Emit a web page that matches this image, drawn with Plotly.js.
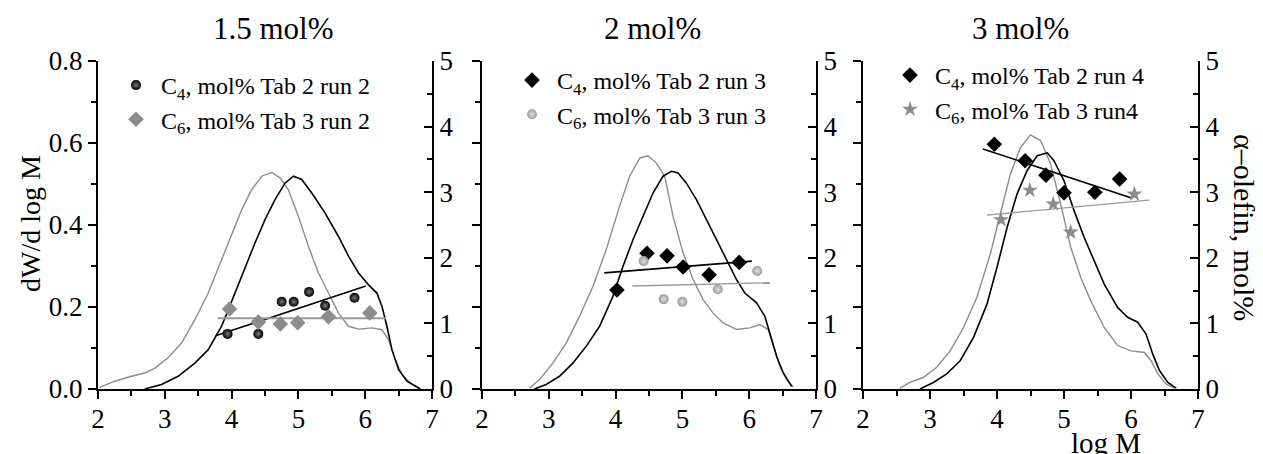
<!DOCTYPE html>
<html><head><meta charset="utf-8">
<script src="https://cdn.plot.ly/plotly-3.0.1.min.js"></script>
<style>html,body{margin:0;padding:0;background:#fff}#chart{width:1263px;height:454px}</style>
</head><body><div id="chart"></div>
<script>
const panelTitles = ['1.5 mol%', '2 mol%', '3 mol%'];
const xTitle = 'log M';
const yLeftTitle = 'dW/d log M';
const yRightTitle = 'α–olefin, mol%';

// ---- Panel 1 (1.5 mol%) GPC curves ----
const p1C4LogM = [2.70,2.95,3.20,3.45,3.65,3.85,3.95,4.05,4.20,4.35,4.50,4.65,4.80,4.925,5.05,5.20,5.40,5.60,5.75,5.90,6.05,6.175,6.25,6.325,6.40,6.50,6.625,6.75,6.825];
const p1C4W    = [0,0.011,0.031,0.063,0.096,0.153,0.193,0.234,0.291,0.356,0.413,0.462,0.502,0.519,0.511,0.478,0.429,0.372,0.324,0.283,0.254,0.234,0.202,0.153,0.096,0.047,0.019,0.0065,0];
const p1C6LogM = [2.025,2.25,2.50,2.70,2.85,3.05,3.25,3.45,3.65,3.85,4.00,4.15,4.30,4.45,4.60,4.725,4.85,5.00,5.15,5.30,5.45,5.60,5.75,5.90,6.10,6.25,6.35,6.45,6.55,6.675,6.80];
const p1C6W    = [0.004,0.019,0.031,0.039,0.051,0.076,0.112,0.169,0.234,0.315,0.380,0.437,0.486,0.519,0.528,0.515,0.486,0.421,0.348,0.283,0.234,0.185,0.153,0.146,0.149,0.145,0.120,0.072,0.035,0.015,0.002];
// Panel 1 comonomer points (right axis)
const p1C4PtLogM = [3.94,4.40,4.75,4.93,5.16,5.40,5.84];
const p1C4Pt     = [0.84,0.84,1.33,1.33,1.48,1.27,1.39];
const p1C6PtLogM = [3.97,4.40,4.73,4.99,5.45,6.07];
const p1C6Pt     = [1.22,1.02,0.99,1.01,1.10,1.16];
const p1C4FitLogM = [3.76,6.01];
const p1C4Fit     = [0.81,1.57];
const p1C6FitLogM = [3.79,6.31];
const p1C6Fit     = [1.08,1.08];

// ---- Panel 2 (2 mol%) ----
const p2C4LogM = [2.785,2.96,3.16,3.36,3.56,3.76,3.96,4.11,4.26,4.41,4.56,4.71,4.835,4.935,5.06,5.21,5.36,5.51,5.66,5.81,5.935,6.11,6.235,6.31,6.41,6.51,6.635];
const p2C4W    = [0,0.011,0.031,0.063,0.104,0.153,0.226,0.299,0.364,0.421,0.478,0.519,0.531,0.527,0.502,0.462,0.413,0.364,0.315,0.267,0.234,0.210,0.177,0.137,0.080,0.039,0.0065];
const p2C6LogM = [2.71,2.86,3.06,3.26,3.46,3.66,3.86,4.06,4.21,4.36,4.485,4.61,4.735,4.86,5.01,5.16,5.31,5.46,5.61,5.81,6.01,6.16,6.285,6.36,6.46,6.56,6.66];
const p2C6W    = [0.002,0.023,0.063,0.112,0.177,0.250,0.340,0.446,0.519,0.563,0.569,0.551,0.519,0.421,0.332,0.267,0.218,0.185,0.161,0.145,0.149,0.157,0.145,0.104,0.055,0.023,0.005];
const p2C4PtLogM = [4.02,4.47,4.77,5.01,5.40,5.85];
const p2C4Pt     = [1.51,2.07,2.03,1.86,1.74,1.93];
const p2C6PtLogM = [4.42,4.72,5.00,5.53,6.12];
const p2C6Pt     = [1.95,1.37,1.33,1.52,1.80];
const p2C4FitLogM = [3.83,6.04];
const p2C4Fit     = [1.77,1.95];
const p2C6FitLogM = [4.25,6.31];
const p2C6Fit     = [1.57,1.62];

// ---- Panel 3 (3 mol%) ----
const p3C4LogM = [2.85,3.05,3.25,3.45,3.65,3.85,4.00,4.15,4.30,4.45,4.60,4.75,4.85,5.00,5.15,5.30,5.45,5.60,5.80,5.95,6.10,6.225,6.325,6.425,6.55,6.675];
const p3C4W    = [0,0.016,0.037,0.069,0.126,0.207,0.297,0.394,0.476,0.533,0.569,0.576,0.557,0.508,0.435,0.370,0.313,0.256,0.199,0.175,0.163,0.134,0.085,0.045,0.016,0.002];
const p3C6LogM = [2.55,2.70,2.90,3.10,3.30,3.50,3.70,3.90,4.05,4.20,4.35,4.50,4.65,4.80,4.95,5.10,5.25,5.40,5.60,5.80,6.00,6.20,6.30,6.40,6.525,6.65];
const p3C6W    = [0.002,0.016,0.028,0.053,0.093,0.150,0.224,0.329,0.427,0.524,0.589,0.620,0.606,0.549,0.451,0.346,0.272,0.215,0.150,0.106,0.093,0.089,0.069,0.037,0.012,0.002];
const p3C4PtLogM = [3.96,4.42,4.73,5.00,5.46,5.83];
const p3C4Pt     = [3.73,3.48,3.26,2.99,3.00,3.20];
const p3C6PtLogM = [4.06,4.49,4.84,5.10,6.05];
const p3C6Pt     = [2.58,3.03,2.82,2.39,2.97];
const p3C4FitLogM = [3.79,6.01];
const p3C4Fit     = [3.66,2.91];
const p3C6FitLogM = [3.85,6.27];
const p3C6Fit     = [2.65,2.88];

const legendNames = [
  ['C<sub>4</sub>, mol% Tab 2 run 2', 'C<sub>6</sub>, mol% Tab 3 run 2'],
  ['C<sub>4</sub>, mol% Tab 2 run 3', 'C<sub>6</sub>, mol% Tab 3 run 3'],
  ['C<sub>4</sub>, mol% Tab 2 run 4', 'C<sub>6</sub>, mol% Tab 3 run4']
];

const FONT = '"Liberation Serif", "Times New Roman", serif';
const BLACK = '#000000';
const GRAY = '#8c8c8c';

const panels = [
  {c4: [p1C4LogM, p1C4W], c6: [p1C6LogM, p1C6W], c4pt: [p1C4PtLogM, p1C4Pt], c6pt: [p1C6PtLogM, p1C6Pt],
   c4fit: [p1C4FitLogM, p1C4Fit], c6fit: [p1C6FitLogM, p1C6Fit],
   c4sym: 'circle', c6sym: 'diamond', c4grad: true, c6grad: false, c6fitW: 2},
  {c4: [p2C4LogM, p2C4W], c6: [p2C6LogM, p2C6W], c4pt: [p2C4PtLogM, p2C4Pt], c6pt: [p2C6PtLogM, p2C6Pt],
   c4fit: [p2C4FitLogM, p2C4Fit], c6fit: [p2C6FitLogM, p2C6Fit],
   c4sym: 'diamond', c6sym: 'circle', c4grad: false, c6grad: true, c6fitW: 1.3},
  {c4: [p3C4LogM, p3C4W], c6: [p3C6LogM, p3C6W], c4pt: [p3C4PtLogM, p3C4Pt], c6pt: [p3C6PtLogM, p3C6Pt],
   c4fit: [p3C4FitLogM, p3C4Fit], c6fit: [p3C6FitLogM, p3C6Fit],
   c4sym: 'diamond', c6sym: 'star', c4grad: false, c6grad: false, c6fitW: 1.3}
];

const W = 1263, H = 454;
const xPix = [[98, 432], [482, 816], [863, 1198]];
const yPix = [61, 389];
const yDom = [1 - yPix[1] / H, 1 - yPix[0] / H];
const legendPos = [[111, 63], [507, 58], [885, 53]];
const titleX = [273, 652, 1020];

const traces = [];
const layout = {
  width: W, height: H, margin: {l: 0, r: 0, t: 0, b: 0},
  paper_bgcolor: '#fff', plot_bgcolor: 'rgba(0,0,0,0)',
  showlegend: true, font: {family: FONT, color: '#000'},
  annotations: []
};

panels.forEach((p, i) => {
  const xa = i === 0 ? 'x' : 'x' + (i + 1);
  const yl = i === 0 ? 'y' : 'y' + (2 * i + 1);
  const yr = 'y' + (2 * i + 2);
  const leg = i === 0 ? 'legend' : 'legend' + (i + 1);
  const axKey = s => s.replace('x', 'xaxis').replace('y', 'yaxis');

  traces.push({x: p.c6[0], y: p.c6[1], xaxis: xa, yaxis: yl, mode: 'lines', line: {color: GRAY, width: 1.4}, showlegend: false, hoverinfo: 'skip'});
  traces.push({x: p.c4[0], y: p.c4[1], xaxis: xa, yaxis: yl, mode: 'lines', line: {color: BLACK, width: 1.6}, showlegend: false, hoverinfo: 'skip'});
  traces.push({x: p.c4fit[0], y: p.c4fit[1], xaxis: xa, yaxis: yr, mode: 'lines', line: {color: BLACK, width: 1.6}, showlegend: false});
  traces.push({x: p.c6fit[0], y: p.c6fit[1], xaxis: xa, yaxis: yr, mode: 'lines', line: {color: '#999', width: p.c6fitW}, showlegend: false});
  const m4 = {symbol: p.c4sym, color: BLACK, size: p.c4sym === 'diamond' ? 12 : 10};
  if (p.c4grad) m4.gradient = {type: 'radial', color: '#7a7a7a'};
  const m6 = {symbol: p.c6sym, color: GRAY, size: p.c6sym === 'star' ? 12 : (p.c6sym === 'diamond' ? 12 : 10)};
  if (p.c6grad) { m6.gradient = {type: 'radial', color: '#e0e0e0'}; m6.color = '#9a9a9a'; }
  traces.push({x: p.c4pt[0], y: p.c4pt[1], xaxis: xa, yaxis: yr, mode: 'markers', marker: m4, name: legendNames[i][0], legend: leg});
  traces.push({x: p.c6pt[0], y: p.c6pt[1], xaxis: xa, yaxis: yr, mode: 'markers', marker: m6, name: legendNames[i][1], legend: leg});

  const xd = [xPix[i][0] / W, xPix[i][1] / W];
  const tickfont = {family: FONT, size: 27, color: '#000'};
  layout[axKey(xa)] = {
    domain: xd, range: [2, 7], anchor: yl, showline: true, linecolor: '#000', linewidth: 2,
    ticks: 'outside', ticklen: 8, tickwidth: 2, tickcolor: '#000', dtick: 1, tick0: 0, ticklabelstandoff: -3,
    minor: {ticks: 'outside', dtick: 0.5, ticklen: 5, tickwidth: 2, tickcolor: '#000'},
    showgrid: false, zeroline: false, tickfont: tickfont, fixedrange: true
  };
  layout[axKey(yl)] = {
    domain: yDom, range: [0, 0.8], anchor: xa, showline: true, linecolor: '#000', linewidth: 2,
    ticks: 'outside', ticklen: 8, tickwidth: 2, tickcolor: '#000', dtick: 0.2, tick0: 0, tickformat: '.1f',
    minor: {ticks: 'outside', dtick: 0.1, ticklen: 5, tickwidth: 2, tickcolor: '#000'},
    showticklabels: i === 0, showgrid: false, zeroline: false, tickfont: tickfont, fixedrange: true
  };
  layout[axKey(yr)] = {
    overlaying: yl, side: 'right', range: [0, 5], anchor: xa, showline: true, linecolor: '#000', linewidth: 2,
    ticks: 'inside', ticklen: 8, tickwidth: 2, tickcolor: '#000', dtick: 1, tick0: 0,
    minor: {ticks: 'inside', dtick: 0.5, ticklen: 5, tickwidth: 2, tickcolor: '#000'},
    showgrid: false, zeroline: false, tickfont: tickfont, fixedrange: true
  };
  layout[leg] = {
    x: legendPos[i][0] / W, y: 1 - legendPos[i][1] / H, xanchor: 'left', yanchor: 'top',
    bgcolor: 'rgba(0,0,0,0)', borderwidth: 0, font: {family: FONT, size: 24, color: '#000'},
    itemwidth: 40, tracegroupgap: 0
  };
  layout.annotations.push({text: panelTitles[i], x: titleX[i] / W, y: 1 - 28 / H, xref: 'paper', yref: 'paper',
    xanchor: 'center', yanchor: 'middle', showarrow: false, font: {family: FONT, size: 31, color: '#000'}});
});

layout.annotations.push({text: yLeftTitle, x: 30 / W, y: 1 - 224 / H, xref: 'paper', yref: 'paper', textangle: -90,
  xanchor: 'center', yanchor: 'middle', showarrow: false, font: {family: FONT, size: 28, color: '#000'}});
layout.annotations.push({text: yRightTitle, x: 1245 / W, y: 1 - 227 / H, xref: 'paper', yref: 'paper', textangle: 90,
  xanchor: 'center', yanchor: 'middle', showarrow: false, font: {family: FONT, size: 30, color: '#000'}});
layout.annotations.push({text: xTitle, x: 1106 / W, y: 0, xref: 'paper', yref: 'paper',
  xanchor: 'center', yanchor: 'bottom', yshift: -7, showarrow: false, font: {family: FONT, size: 29, color: '#000'}});

Plotly.newPlot('chart', traces, layout, {displayModeBar: false, staticPlot: true});
</script>
</body></html>
